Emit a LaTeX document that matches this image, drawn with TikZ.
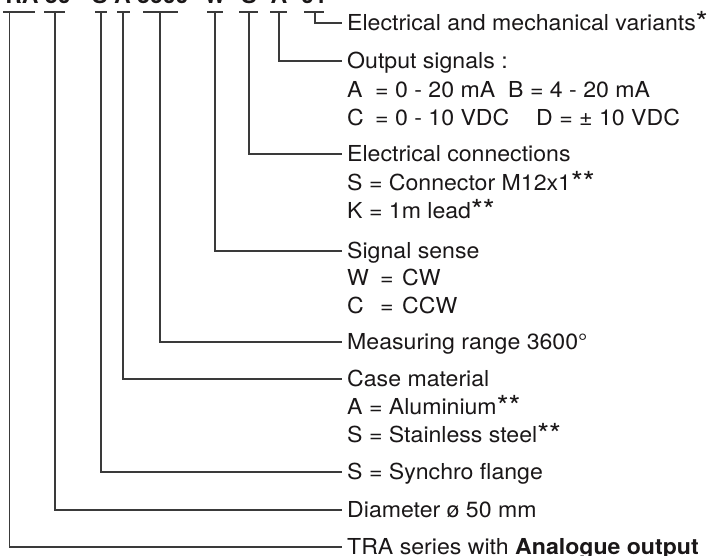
\documentclass[tikz,border=0pt]{standalone}
\usepackage{fontspec}
\setmainfont{TeX Gyre Heros}[FakeStretch=1.05]
\definecolor{ink}{HTML}{1A1718}
\definecolor{wire}{HTML}{3A3A3A}
\newcommand{\mystar}[1]{\raisebox{-1.5pt}{\fontsize{29}{29}\selectfont #1}}
\begin{document}
\begin{tikzpicture}[x=1pt,y=-1pt,
  lab/.style={anchor=west, inner sep=0pt, text height=15.8pt, text depth=0pt,
    font=\fontsize{22}{28}\selectfont, text=ink},
  code/.style={inner sep=0pt, font=\fontsize{22}{28}\selectfont\bfseries, text=ink},
  conn/.style={draw=wire, line width=1.1pt},
  bar/.style={draw=wire, line width=1.1pt}]
\useasboundingbox (0,0) rectangle (715,556);
% product code (top, cut by the page edge)
\node[code, anchor=base west] (cTRA) at (-9,3.3) {TRA 50};
\node[code, anchor=base west] (cSA) at (92,3.3) {S A 3600};
\node[code, anchor=base] (cW) at (215,3.3) {W};
\node[code, anchor=base] (cS) at (249,3.3) {S};
\node[code, anchor=base] (cA) at (279,3.3) {A};
\node[code, anchor=base] (c01) at (314,3.3) {01};
% underline bars
\draw[bar] (3,12) -- (35,12);
\draw[bar] (44,12) -- (65,12);
\draw[bar] (95,12) -- (107,12);
\draw[bar] (117,12) -- (130,12);
\draw[bar] (143,12) -- (178,12);
\draw[bar] (207,12) -- (223,12);
\draw[bar] (239,12) -- (258,12);
\draw[bar] (270,12) -- (287,12);
\draw[bar] (304,12) -- (324,12);
% junction points
\coordinate (j1) at (9.5,12);
\coordinate (j2) at (55,12);
\coordinate (j3) at (101,12);
\coordinate (j4) at (123,12);
\coordinate (j5) at (160,12);
\coordinate (j6) at (215,12);
\coordinate (j7) at (249,12);
\coordinate (j8) at (279,12);
\coordinate (j9) at (315,12);
% labels
\node[lab] (l1) at (347,23) {Electrical and mechanical variants\mystar{*}};
\node[lab] (l2) at (347,61) {Output signals :};
\node[lab] (l2a) at (347,90) {A};
\node[lab] (l2b) at (375,90) {= 0 - 20 mA};
\node[lab] (l2c) at (508,90) {B = 4 - 20 mA};
\node[lab] (l2d) at (347,118) {C};
\node[lab] (l2e) at (375,118) {= 0 - 10 VDC};
\node[lab] (l2f) at (536,118) {D = ± 10 VDC};
\node[lab] (l3) at (347,154) {Electrical connections};
\node[lab] (l3a) at (347,183) {S = Connector M12x1\mystar{**}};
\node[lab] (l3b) at (347,211) {K = 1m lead\mystar{**}};
\node[lab] (l4) at (347,251) {Signal sense};
\node[lab] (l4a) at (347,278) {W};
\node[lab] (l4b) at (380,278) {=};
\node[lab] (l4c) at (402,278) {CW};
\node[lab] (l4d) at (347,306) {C};
\node[lab] (l4e) at (380,306) {=};
\node[lab] (l4f) at (402,306) {CCW};
\node[lab] (l5) at (347,342) {Measuring range 3600°};
\node[lab] (l6) at (347,379) {Case material};
\node[lab] (l6a) at (347,407) {A = Aluminium\mystar{**}};
\node[lab] (l6b) at (347,435) {S = Stainless steel\mystar{**}};
\node[lab] (l7) at (347,472) {S = Synchro flange};
\node[lab] (l8) at (347,510) {Diameter ø 50 mm};
\node[lab] (l9) at (347,547) {TRA series with \textbf{Analogue output}};
% connectors
\draw[conn] (j9) |- ([xshift=-5pt]l1.west);
\draw[conn] (j8) |- ([xshift=-5pt]l2.west);
\draw[conn] (j7) |- ([xshift=-5pt]l3.west);
\draw[conn] (j6) |- ([xshift=-5pt]l4.west);
\draw[conn] (j5) |- ([xshift=-5pt]l5.west);
\draw[conn] (j4) |- ([xshift=-5pt]l6.west);
\draw[conn] (j3) |- ([xshift=-5pt]l7.west);
\draw[conn] (j2) |- ([xshift=-5pt]l8.west);
\draw[conn] (j1) |- ([xshift=-5pt]l9.west);
\end{tikzpicture}
\end{document}
